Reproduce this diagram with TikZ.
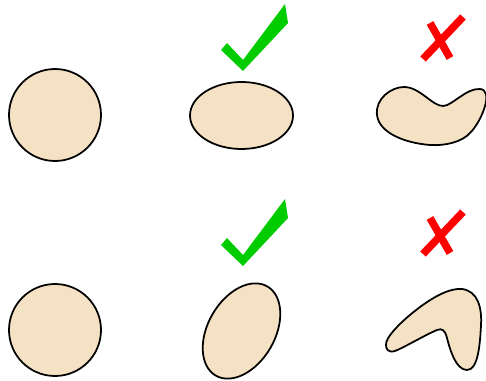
\documentclass[tikz,border=0pt]{standalone}
\usetikzlibrary{calc}
\definecolor{blobfill}{RGB}{245,225,196}
\definecolor{okgreen}{RGB}{0,204,0}
\begin{document}
\begin{tikzpicture}[
  x=0.02cm, y=-0.02cm,
  shapeline/.style={draw=black, line width=1pt, fill=blobfill},
  crossbar/.style={draw=red, line width=4.3pt},
  tickmark/.style={fill=okgreen}
]
\useasboundingbox (0,0) rectangle (486,381);

% ====== LEFT COLUMN: circles ======
\foreach \cy in {115,330}{
  \coordinate (c) at (55,\cy);
  \draw[shapeline] (c) circle[radius=46];
}

% ====== MIDDLE COLUMN: ellipses ======
\coordinate (ellTop) at (241.5,115.5);
\coordinate (ellBot) at (241.5,331);
\draw[shapeline] (ellTop) ellipse[x radius=51.5, y radius=33.5];
\draw[shapeline, rotate around={60:(ellBot)}] (ellBot) ellipse[x radius=51.5, y radius=33.5];

% ====== RIGHT COLUMN: non-convex blobs ======
\coordinate (dip) at (443,106);
\coordinate (tip) at (386,345);
\draw[shapeline] (dip)
  .. controls (452,106) and (466,88) .. (480,89)
  .. controls (494,90) and (482,121) .. (470,133)
  .. controls (462,142) and (445,146) .. (430,145)
  .. controls (405,143) and (379,133) .. (377,115)
  .. controls (375,99) and (391,87) .. (404,87)
  .. controls (420,87) and (432,106) .. (dip) -- cycle;
\draw[shapeline] (tip)
  .. controls (385,338) and (400,322) .. (420,307)
  .. controls (435,296) and (450,288) .. (462,289)
  .. controls (478,291) and (482,308) .. (481,325)
  .. controls (480,345) and (478,370) .. (467,370)
  .. controls (456,370) and (450,350) .. (447,338)
  .. controls (445,330) and (442,328) .. (437,330)
  .. controls (425,335) and (405,347) .. (395,351)
  .. controls (388,353) and (386,349) .. (tip) -- cycle;

% ====== MARKS ======
\foreach \dy in {0,195}{
  \fill[tickmark, shift={(0,\dy)}] (221,50) -- (227,43) -- (243,60)
    -- (285,4) -- (288,23) -- (243,71) -- cycle;
  \draw[crossbar, shift={(0,\dy)}] (463,17) -- (423,59);
  \draw[crossbar, shift={(0,\dy)}] (430,23) -- (450,58);
}

\end{tikzpicture}
\end{document}
